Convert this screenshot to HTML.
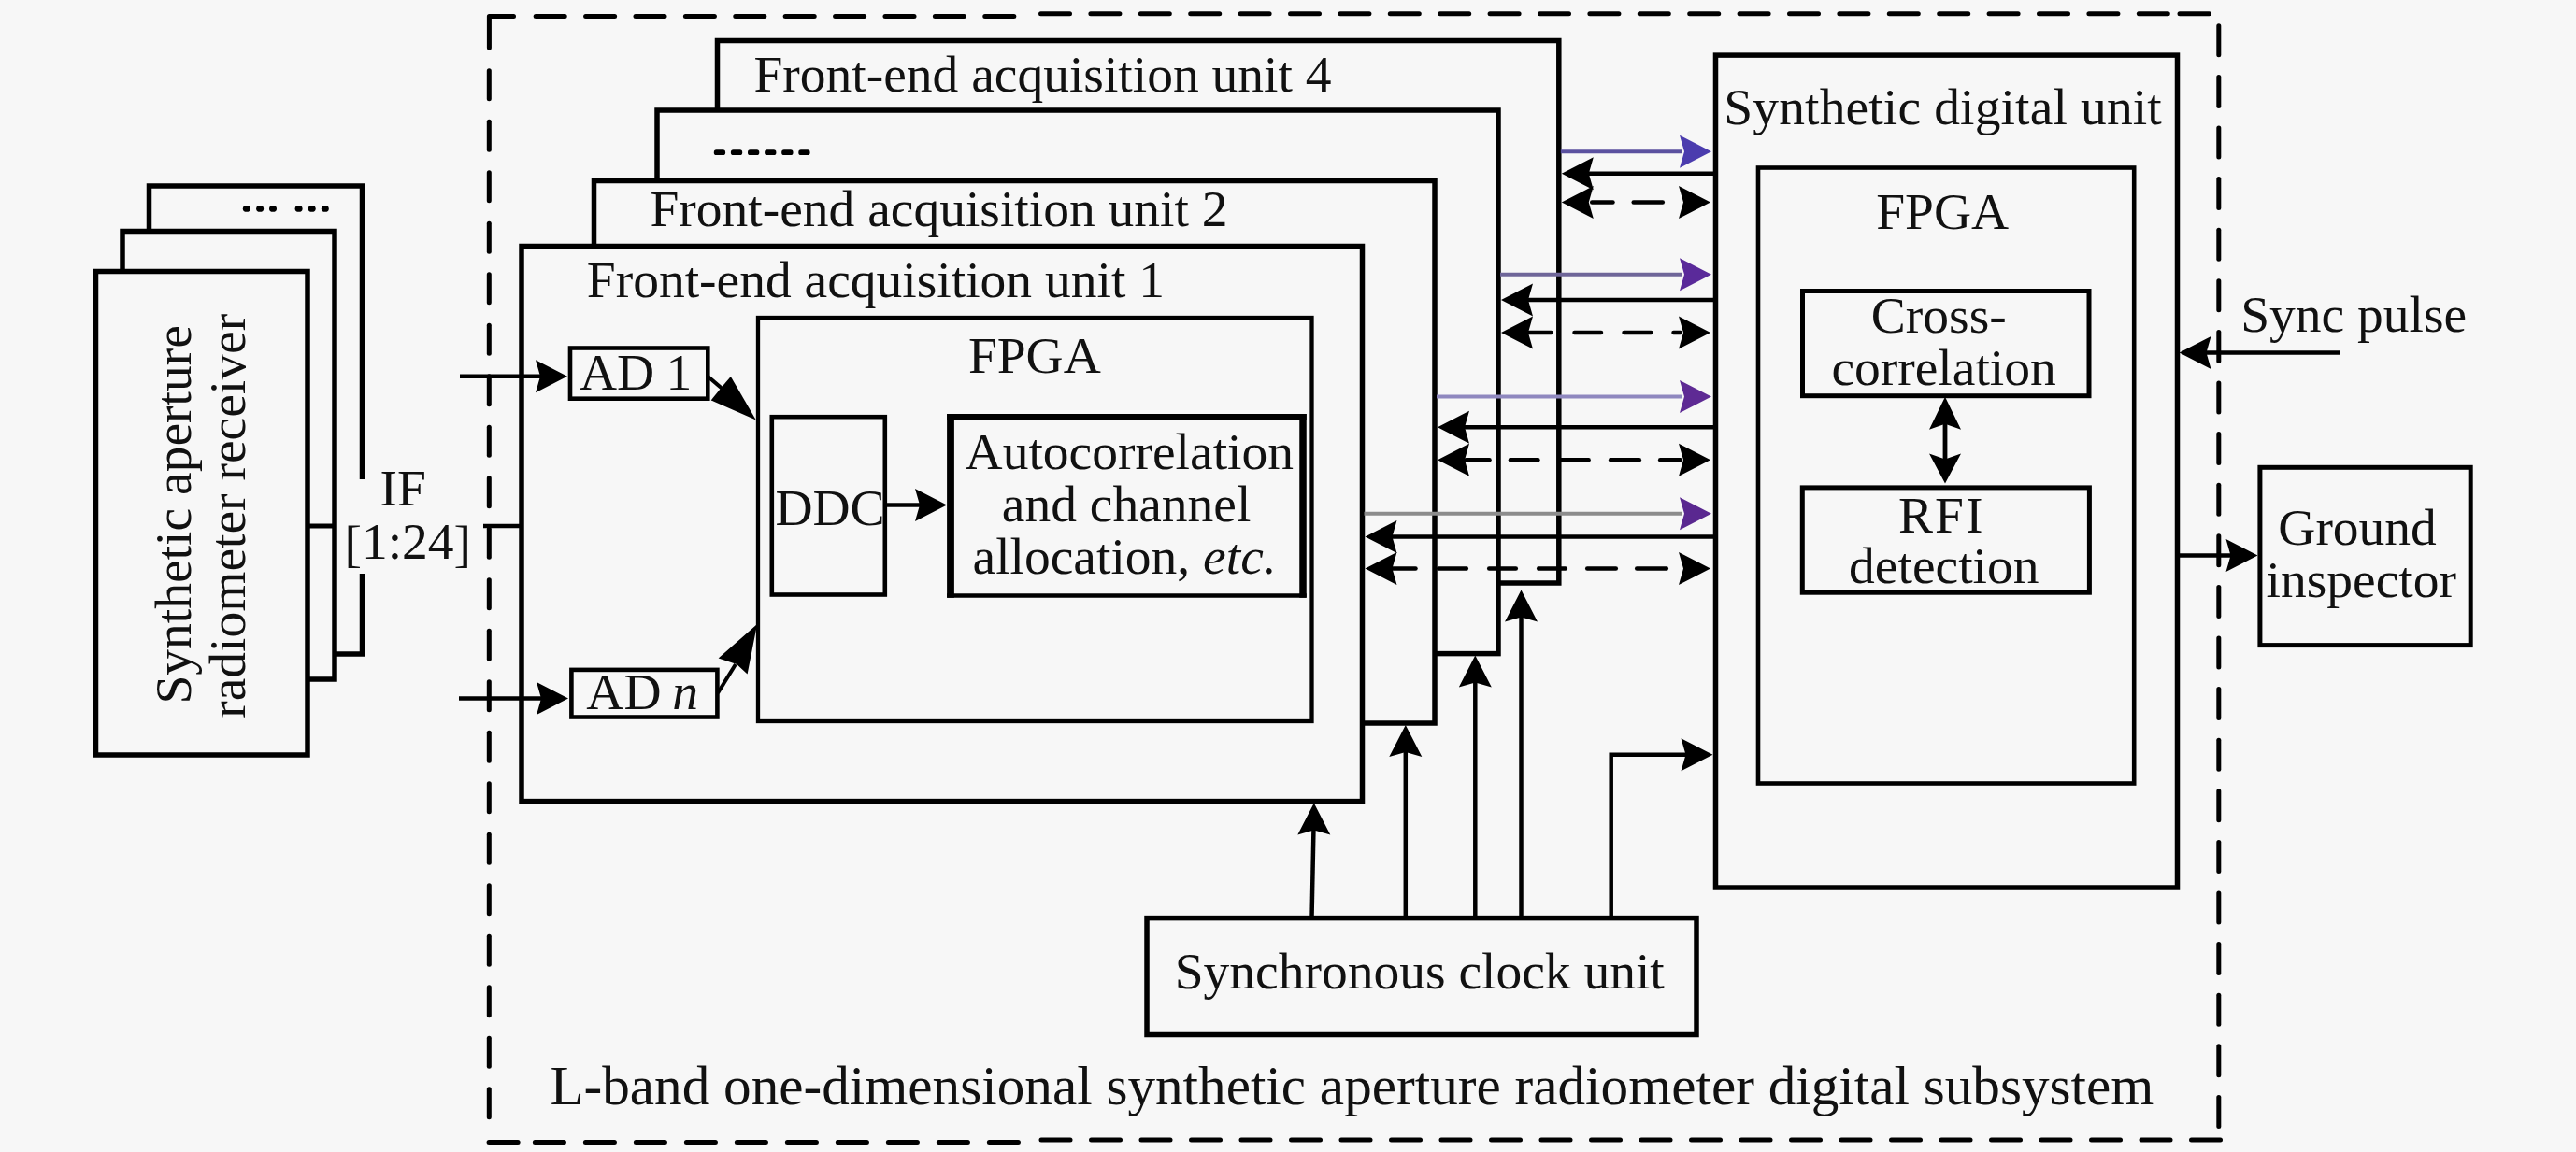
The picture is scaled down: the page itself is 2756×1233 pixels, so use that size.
<!DOCTYPE html>
<html><head><meta charset="utf-8"><style>
html,body{margin:0;padding:0;background:#f7f7f7;}
svg{display:block;}
text{font-family:"Liberation Serif",serif;fill:#111;}
</style></head><body>
<svg width="2756" height="1233" viewBox="0 0 2756 1233">
<rect width="2756" height="1233" fill="#f7f7f7"/>
<rect x="159.5" y="199" width="228.0" height="501" fill="#f7f7f7" stroke="#000" stroke-width="5.5"/>
<rect x="131" y="247.5" width="227" height="479.5" fill="#f7f7f7" stroke="#000" stroke-width="5.5"/>
<rect x="102.5" y="290.5" width="226.5" height="517.5" fill="#f7f7f7" stroke="#000" stroke-width="5.5"/>
<rect x="382" y="513" width="12" height="101" fill="#f7f7f7"/>
<ellipse cx="263.8" cy="223.4" rx="4" ry="3.4" fill="#000"/>
<ellipse cx="278.1" cy="223.4" rx="4" ry="3.4" fill="#000"/>
<ellipse cx="292" cy="223.4" rx="4" ry="3.4" fill="#000"/>
<ellipse cx="319.6" cy="223.4" rx="4" ry="3.4" fill="#000"/>
<ellipse cx="333.7" cy="223.4" rx="4" ry="3.4" fill="#000"/>
<ellipse cx="347.8" cy="223.4" rx="4" ry="3.4" fill="#000"/>
<line x1="329" y1="563" x2="358" y2="563" stroke="#000" stroke-width="5" stroke-linecap="butt"/>
<g transform="translate(203.5,550) rotate(-90)">
<text x="-203.5" y="0" font-size="55.5">Synthetic aperture</text>
</g>
<g transform="translate(261.5,552) rotate(-90)">
<text x="-216.8" y="0" font-size="55.5">radiometer receiver</text>
</g>
<text x="406.5" y="541.1" font-size="55.5">IF</text>
<text x="368.4" y="598" font-size="55.5"><tspan dy="3">[</tspan><tspan dy="-3">1:24</tspan><tspan dy="3">]</tspan></text>
<path d="M523.4,51 L523.4,17.5 L549.5,17.5" fill="none" stroke="#000" stroke-width="5" stroke-linecap="round" stroke-linejoin="round"/>
<line x1="573.2" y1="17.5" x2="604.2" y2="17.5" stroke="#000" stroke-width="5" stroke-linecap="round"/>
<line x1="626.6" y1="17.5" x2="657.6" y2="17.5" stroke="#000" stroke-width="5" stroke-linecap="round"/>
<line x1="680.0" y1="17.5" x2="711.0" y2="17.5" stroke="#000" stroke-width="5" stroke-linecap="round"/>
<line x1="733.4" y1="17.5" x2="764.4" y2="17.5" stroke="#000" stroke-width="5" stroke-linecap="round"/>
<line x1="786.8" y1="17.5" x2="817.8" y2="17.5" stroke="#000" stroke-width="5" stroke-linecap="round"/>
<line x1="840.2" y1="17.5" x2="871.2" y2="17.5" stroke="#000" stroke-width="5" stroke-linecap="round"/>
<line x1="893.6" y1="17.5" x2="924.6" y2="17.5" stroke="#000" stroke-width="5" stroke-linecap="round"/>
<line x1="947.0" y1="17.5" x2="978.0" y2="17.5" stroke="#000" stroke-width="5" stroke-linecap="round"/>
<line x1="1000.4" y1="17.5" x2="1031.4" y2="17.5" stroke="#000" stroke-width="5" stroke-linecap="round"/>
<line x1="1053.8" y1="17.5" x2="1084.8" y2="17.5" stroke="#000" stroke-width="5" stroke-linecap="round"/>
<line x1="1113.5" y1="14.8" x2="1144.5" y2="14.8" stroke="#000" stroke-width="5" stroke-linecap="round"/>
<line x1="1166.9" y1="14.8" x2="1197.9" y2="14.8" stroke="#000" stroke-width="5" stroke-linecap="round"/>
<line x1="1220.3" y1="14.8" x2="1251.3" y2="14.8" stroke="#000" stroke-width="5" stroke-linecap="round"/>
<line x1="1273.7" y1="14.8" x2="1304.7" y2="14.8" stroke="#000" stroke-width="5" stroke-linecap="round"/>
<line x1="1327.1" y1="14.8" x2="1358.1" y2="14.8" stroke="#000" stroke-width="5" stroke-linecap="round"/>
<line x1="1380.5" y1="14.8" x2="1411.5" y2="14.8" stroke="#000" stroke-width="5" stroke-linecap="round"/>
<line x1="1433.9" y1="14.8" x2="1464.9" y2="14.8" stroke="#000" stroke-width="5" stroke-linecap="round"/>
<line x1="1487.3" y1="14.8" x2="1518.3" y2="14.8" stroke="#000" stroke-width="5" stroke-linecap="round"/>
<line x1="1540.7" y1="14.8" x2="1571.7" y2="14.8" stroke="#000" stroke-width="5" stroke-linecap="round"/>
<line x1="1594.1" y1="14.8" x2="1625.1" y2="14.8" stroke="#000" stroke-width="5" stroke-linecap="round"/>
<line x1="1647.5" y1="14.8" x2="1678.5" y2="14.8" stroke="#000" stroke-width="5" stroke-linecap="round"/>
<line x1="1700.9" y1="14.8" x2="1731.9" y2="14.8" stroke="#000" stroke-width="5" stroke-linecap="round"/>
<line x1="1754.3" y1="14.8" x2="1785.3" y2="14.8" stroke="#000" stroke-width="5" stroke-linecap="round"/>
<line x1="1807.7" y1="14.8" x2="1838.7" y2="14.8" stroke="#000" stroke-width="5" stroke-linecap="round"/>
<line x1="1861.1" y1="14.8" x2="1892.1" y2="14.8" stroke="#000" stroke-width="5" stroke-linecap="round"/>
<line x1="1914.5" y1="14.8" x2="1945.5" y2="14.8" stroke="#000" stroke-width="5" stroke-linecap="round"/>
<line x1="1967.9" y1="14.8" x2="1998.9" y2="14.8" stroke="#000" stroke-width="5" stroke-linecap="round"/>
<line x1="2021.3" y1="14.8" x2="2052.3" y2="14.8" stroke="#000" stroke-width="5" stroke-linecap="round"/>
<line x1="2074.7" y1="14.8" x2="2105.7" y2="14.8" stroke="#000" stroke-width="5" stroke-linecap="round"/>
<line x1="2128.1" y1="14.8" x2="2159.1" y2="14.8" stroke="#000" stroke-width="5" stroke-linecap="round"/>
<line x1="2181.5" y1="14.8" x2="2212.5" y2="14.8" stroke="#000" stroke-width="5" stroke-linecap="round"/>
<line x1="2234.9" y1="14.8" x2="2265.9" y2="14.8" stroke="#000" stroke-width="5" stroke-linecap="round"/>
<line x1="2288.3" y1="14.8" x2="2319.3" y2="14.8" stroke="#000" stroke-width="5" stroke-linecap="round"/>
<line x1="2332.0" y1="14.8" x2="2363.5" y2="14.8" stroke="#000" stroke-width="5" stroke-linecap="round"/>
<line x1="523.3" y1="75.8" x2="523.3" y2="105.8" stroke="#000" stroke-width="5" stroke-linecap="round"/>
<line x1="523.3" y1="130.3" x2="523.3" y2="160.3" stroke="#000" stroke-width="5" stroke-linecap="round"/>
<line x1="523.3" y1="184.8" x2="523.3" y2="214.8" stroke="#000" stroke-width="5" stroke-linecap="round"/>
<line x1="523.3" y1="239.3" x2="523.3" y2="269.3" stroke="#000" stroke-width="5" stroke-linecap="round"/>
<line x1="523.3" y1="293.8" x2="523.3" y2="323.8" stroke="#000" stroke-width="5" stroke-linecap="round"/>
<line x1="523.3" y1="348.3" x2="523.3" y2="378.3" stroke="#000" stroke-width="5" stroke-linecap="round"/>
<line x1="523.3" y1="402.8" x2="523.3" y2="432.8" stroke="#000" stroke-width="5" stroke-linecap="round"/>
<line x1="523.3" y1="457.3" x2="523.3" y2="487.3" stroke="#000" stroke-width="5" stroke-linecap="round"/>
<line x1="523.3" y1="511.8" x2="523.3" y2="541.8" stroke="#000" stroke-width="5" stroke-linecap="round"/>
<line x1="523.3" y1="566.3" x2="523.3" y2="596.3" stroke="#000" stroke-width="5" stroke-linecap="round"/>
<line x1="523.3" y1="620.8" x2="523.3" y2="650.8" stroke="#000" stroke-width="5" stroke-linecap="round"/>
<line x1="523.3" y1="675.3" x2="523.3" y2="705.3" stroke="#000" stroke-width="5" stroke-linecap="round"/>
<line x1="523.3" y1="729.8" x2="523.3" y2="759.8" stroke="#000" stroke-width="5" stroke-linecap="round"/>
<line x1="523.3" y1="784.3" x2="523.3" y2="814.3" stroke="#000" stroke-width="5" stroke-linecap="round"/>
<line x1="523.3" y1="838.8" x2="523.3" y2="868.8" stroke="#000" stroke-width="5" stroke-linecap="round"/>
<line x1="523.3" y1="893.3" x2="523.3" y2="923.3" stroke="#000" stroke-width="5" stroke-linecap="round"/>
<line x1="523.3" y1="947.8" x2="523.3" y2="977.8" stroke="#000" stroke-width="5" stroke-linecap="round"/>
<line x1="523.3" y1="1002.3" x2="523.3" y2="1032.3" stroke="#000" stroke-width="5" stroke-linecap="round"/>
<line x1="523.3" y1="1056.8" x2="523.3" y2="1086.8" stroke="#000" stroke-width="5" stroke-linecap="round"/>
<line x1="523.3" y1="1111.3" x2="523.3" y2="1141.3" stroke="#000" stroke-width="5" stroke-linecap="round"/>
<line x1="523.3" y1="1165.8" x2="523.3" y2="1195.8" stroke="#000" stroke-width="5" stroke-linecap="round"/>
<line x1="523.1" y1="1222.5" x2="554.1" y2="1222.5" stroke="#000" stroke-width="5" stroke-linecap="round"/>
<line x1="572.4" y1="1222.5" x2="603.4" y2="1222.5" stroke="#000" stroke-width="5" stroke-linecap="round"/>
<line x1="626.4" y1="1222.5" x2="657.4" y2="1222.5" stroke="#000" stroke-width="5" stroke-linecap="round"/>
<line x1="680.4" y1="1222.5" x2="711.4" y2="1222.5" stroke="#000" stroke-width="5" stroke-linecap="round"/>
<line x1="734.4" y1="1222.5" x2="765.4" y2="1222.5" stroke="#000" stroke-width="5" stroke-linecap="round"/>
<line x1="788.4" y1="1222.5" x2="819.4" y2="1222.5" stroke="#000" stroke-width="5" stroke-linecap="round"/>
<line x1="842.4" y1="1222.5" x2="873.4" y2="1222.5" stroke="#000" stroke-width="5" stroke-linecap="round"/>
<line x1="896.4" y1="1222.5" x2="927.4" y2="1222.5" stroke="#000" stroke-width="5" stroke-linecap="round"/>
<line x1="950.4" y1="1222.5" x2="981.4" y2="1222.5" stroke="#000" stroke-width="5" stroke-linecap="round"/>
<line x1="1004.4" y1="1222.5" x2="1035.4" y2="1222.5" stroke="#000" stroke-width="5" stroke-linecap="round"/>
<line x1="1058.4" y1="1222.5" x2="1089.4" y2="1222.5" stroke="#000" stroke-width="5" stroke-linecap="round"/>
<line x1="1114.0" y1="1220" x2="1145.0" y2="1220" stroke="#000" stroke-width="5" stroke-linecap="round"/>
<line x1="1167.5" y1="1220" x2="1198.5" y2="1220" stroke="#000" stroke-width="5" stroke-linecap="round"/>
<line x1="1221.0" y1="1220" x2="1252.0" y2="1220" stroke="#000" stroke-width="5" stroke-linecap="round"/>
<line x1="1274.5" y1="1220" x2="1305.5" y2="1220" stroke="#000" stroke-width="5" stroke-linecap="round"/>
<line x1="1328.0" y1="1220" x2="1359.0" y2="1220" stroke="#000" stroke-width="5" stroke-linecap="round"/>
<line x1="1381.5" y1="1220" x2="1412.5" y2="1220" stroke="#000" stroke-width="5" stroke-linecap="round"/>
<line x1="1435.0" y1="1220" x2="1466.0" y2="1220" stroke="#000" stroke-width="5" stroke-linecap="round"/>
<line x1="1488.5" y1="1220" x2="1519.5" y2="1220" stroke="#000" stroke-width="5" stroke-linecap="round"/>
<line x1="1542.0" y1="1220" x2="1573.0" y2="1220" stroke="#000" stroke-width="5" stroke-linecap="round"/>
<line x1="1595.5" y1="1220" x2="1626.5" y2="1220" stroke="#000" stroke-width="5" stroke-linecap="round"/>
<line x1="1649.0" y1="1220" x2="1680.0" y2="1220" stroke="#000" stroke-width="5" stroke-linecap="round"/>
<line x1="1702.5" y1="1220" x2="1733.5" y2="1220" stroke="#000" stroke-width="5" stroke-linecap="round"/>
<line x1="1756.0" y1="1220" x2="1787.0" y2="1220" stroke="#000" stroke-width="5" stroke-linecap="round"/>
<line x1="1809.5" y1="1220" x2="1840.5" y2="1220" stroke="#000" stroke-width="5" stroke-linecap="round"/>
<line x1="1863.0" y1="1220" x2="1894.0" y2="1220" stroke="#000" stroke-width="5" stroke-linecap="round"/>
<line x1="1916.5" y1="1220" x2="1947.5" y2="1220" stroke="#000" stroke-width="5" stroke-linecap="round"/>
<line x1="1970.0" y1="1220" x2="2001.0" y2="1220" stroke="#000" stroke-width="5" stroke-linecap="round"/>
<line x1="2023.5" y1="1220" x2="2054.5" y2="1220" stroke="#000" stroke-width="5" stroke-linecap="round"/>
<line x1="2077.0" y1="1220" x2="2108.0" y2="1220" stroke="#000" stroke-width="5" stroke-linecap="round"/>
<line x1="2130.5" y1="1220" x2="2161.5" y2="1220" stroke="#000" stroke-width="5" stroke-linecap="round"/>
<line x1="2184.0" y1="1220" x2="2215.0" y2="1220" stroke="#000" stroke-width="5" stroke-linecap="round"/>
<line x1="2237.5" y1="1220" x2="2268.5" y2="1220" stroke="#000" stroke-width="5" stroke-linecap="round"/>
<line x1="2291.0" y1="1220" x2="2322.0" y2="1220" stroke="#000" stroke-width="5" stroke-linecap="round"/>
<line x1="2344.5" y1="1220" x2="2375.5" y2="1220" stroke="#000" stroke-width="5" stroke-linecap="round"/>
<line x1="2373.8" y1="27.8" x2="2373.8" y2="58.8" stroke="#000" stroke-width="5" stroke-linecap="round"/>
<line x1="2373.8" y1="82.4" x2="2373.8" y2="113.4" stroke="#000" stroke-width="5" stroke-linecap="round"/>
<line x1="2373.8" y1="137.0" x2="2373.8" y2="168.0" stroke="#000" stroke-width="5" stroke-linecap="round"/>
<line x1="2373.8" y1="191.6" x2="2373.8" y2="222.6" stroke="#000" stroke-width="5" stroke-linecap="round"/>
<line x1="2373.8" y1="246.2" x2="2373.8" y2="277.2" stroke="#000" stroke-width="5" stroke-linecap="round"/>
<line x1="2373.8" y1="300.8" x2="2373.8" y2="331.8" stroke="#000" stroke-width="5" stroke-linecap="round"/>
<line x1="2373.8" y1="355.4" x2="2373.8" y2="386.4" stroke="#000" stroke-width="5" stroke-linecap="round"/>
<line x1="2373.8" y1="410.0" x2="2373.8" y2="441.0" stroke="#000" stroke-width="5" stroke-linecap="round"/>
<line x1="2373.8" y1="464.6" x2="2373.8" y2="495.6" stroke="#000" stroke-width="5" stroke-linecap="round"/>
<line x1="2373.8" y1="519.2" x2="2373.8" y2="550.2" stroke="#000" stroke-width="5" stroke-linecap="round"/>
<line x1="2373.8" y1="573.8" x2="2373.8" y2="604.8" stroke="#000" stroke-width="5" stroke-linecap="round"/>
<line x1="2373.8" y1="628.4" x2="2373.8" y2="659.4" stroke="#000" stroke-width="5" stroke-linecap="round"/>
<line x1="2373.8" y1="683.0" x2="2373.8" y2="714.0" stroke="#000" stroke-width="5" stroke-linecap="round"/>
<line x1="2373.8" y1="737.6" x2="2373.8" y2="768.6" stroke="#000" stroke-width="5" stroke-linecap="round"/>
<line x1="2373.8" y1="792.2" x2="2373.8" y2="823.2" stroke="#000" stroke-width="5" stroke-linecap="round"/>
<line x1="2373.8" y1="846.8" x2="2373.8" y2="877.8" stroke="#000" stroke-width="5" stroke-linecap="round"/>
<line x1="2373.8" y1="901.4" x2="2373.8" y2="932.4" stroke="#000" stroke-width="5" stroke-linecap="round"/>
<line x1="2373.8" y1="956.0" x2="2373.8" y2="987.0" stroke="#000" stroke-width="5" stroke-linecap="round"/>
<line x1="2373.8" y1="1010.6" x2="2373.8" y2="1041.6" stroke="#000" stroke-width="5" stroke-linecap="round"/>
<line x1="2373.8" y1="1065.2" x2="2373.8" y2="1096.2" stroke="#000" stroke-width="5" stroke-linecap="round"/>
<line x1="2373.8" y1="1119.8" x2="2373.8" y2="1150.8" stroke="#000" stroke-width="5" stroke-linecap="round"/>
<line x1="2373.8" y1="1174.4" x2="2373.8" y2="1205.4" stroke="#000" stroke-width="5" stroke-linecap="round"/>
<rect x="767.5" y="43.5" width="900.3" height="580.5" fill="#f7f7f7" stroke="#000" stroke-width="5.5"/>
<rect x="703" y="118" width="900" height="581.6" fill="#f7f7f7" stroke="#000" stroke-width="5.5"/>
<rect x="635.5" y="193.5" width="899.5" height="580.5" fill="#f7f7f7" stroke="#000" stroke-width="5.5"/>
<rect x="558" y="263.5" width="899.5" height="594.1" fill="#f7f7f7" stroke="#000" stroke-width="5.5"/>
<text x="806.4" y="97.7" font-size="55.5">Front-end acquisition unit 4</text>
<rect x="763.8" y="160.3" width="12.3" height="5.8" rx="2.6" fill="#000"/>
<rect x="781.9" y="160.3" width="12.3" height="5.8" rx="2.6" fill="#000"/>
<rect x="800.0" y="160.3" width="12.3" height="5.8" rx="2.6" fill="#000"/>
<rect x="818.1" y="160.3" width="12.3" height="5.8" rx="2.6" fill="#000"/>
<rect x="836.2" y="160.3" width="12.3" height="5.8" rx="2.6" fill="#000"/>
<rect x="854.3" y="160.3" width="12.3" height="5.8" rx="2.6" fill="#000"/>
<text x="695.4" y="242.1" font-size="55.5">Front-end acquisition unit 2</text>
<text x="627.8" y="317.8" font-size="55.5">Front-end acquisition unit 1</text>
<rect x="811" y="340" width="592.5" height="432" fill="#f7f7f7" stroke="#000" stroke-width="4.3"/>
<text x="1035.9" y="399" font-size="55.5">FPGA</text>
<rect x="825.8" y="446.2" width="121.0" height="190.3" fill="#f7f7f7" stroke="#000" stroke-width="4.6"/>
<text x="829.4" y="562" font-size="55.5">DDC</text>
<rect x="1017" y="446" width="377" height="191.5" fill="#f7f7f7"/>
<line x1="1017" y1="443" x2="1017" y2="639.7" stroke="#000" stroke-width="7.8" stroke-linecap="butt"/>
<line x1="1394" y1="443" x2="1394" y2="639.7" stroke="#000" stroke-width="7.5" stroke-linecap="butt"/>
<line x1="1013.1" y1="446" x2="1397.7" y2="446" stroke="#000" stroke-width="6" stroke-linecap="butt"/>
<line x1="1013.1" y1="637.5" x2="1397.7" y2="637.5" stroke="#000" stroke-width="4.5" stroke-linecap="butt"/>
<text x="1032.6" y="502.4" font-size="55.5">Autocorrelation</text>
<text x="1071.8" y="557.5" font-size="55.5">and channel</text>
<text x="1040.5" y="613.6" font-size="55.5">allocation, <tspan font-style="italic">etc.</tspan></text>
<line x1="949" y1="540.6" x2="985" y2="540.6" stroke="#000" stroke-width="4.5" stroke-linecap="butt"/>
<polygon points="1013.0,540.6 979.0,558.1 984.0,540.6 979.0,523.1" fill="#000"/>
<rect x="610" y="372.5" width="147.29999999999995" height="54.19999999999999" fill="#f7f7f7" stroke="#000" stroke-width="4.6"/>
<text x="620.0" y="416.6" font-size="55.5">AD <tspan dx="-1.5">1</tspan></text>
<rect x="611.4" y="716.9" width="156.0" height="50.60000000000002" fill="#f7f7f7" stroke="#000" stroke-width="4.6"/>
<text x="627.3" y="758.8" font-size="55.5">AD <tspan font-style="italic" dx="-2">n</tspan></text>
<line x1="492" y1="402.8" x2="580" y2="402.8" stroke="#000" stroke-width="4.5" stroke-linecap="butt"/>
<polygon points="607.0,402.8 573.0,420.3 578.0,402.8 573.0,385.3" fill="#000"/>
<line x1="491" y1="747.6" x2="580" y2="747.6" stroke="#000" stroke-width="4.5" stroke-linecap="butt"/>
<polygon points="608.0,747.6 574.0,765.1 579.0,747.6 574.0,730.1" fill="#000"/>
<line x1="517" y1="563" x2="557" y2="563" stroke="#000" stroke-width="4.5" stroke-linecap="butt"/>
<line x1="757.5" y1="403" x2="775" y2="418" stroke="#000" stroke-width="4" stroke-linecap="butt"/>
<polygon points="808.8,449.5 781.8,403.0 772.8,413.6 760.7,428.4" fill="#000"/>
<line x1="768" y1="741.6" x2="787" y2="711" stroke="#000" stroke-width="4" stroke-linecap="butt"/>
<polygon points="810.1,668.1 768.6,704.4 788.2,711.1 799.6,721.6" fill="#000"/>
<line x1="1669.8" y1="162.3" x2="1800" y2="162.3" stroke="#5b519f" stroke-width="4" stroke-linecap="butt"/>
<polygon points="1831.0,162.3 1797.0,179.8 1802.0,162.3 1797.0,144.8" fill="#4b3cae"/>
<line x1="1697.8" y1="185.8" x2="1835.5" y2="185.8" stroke="#000" stroke-width="4.5" stroke-linecap="butt"/>
<polygon points="1670.8,185.8 1704.8,168.3 1699.8,185.8 1704.8,203.3" fill="#000"/>
<line x1="1703.2" y1="216.4" x2="1725.5" y2="216.4" stroke="#000" stroke-width="4.5" stroke-linecap="round"/>
<line x1="1747.7" y1="216.4" x2="1778.8" y2="216.4" stroke="#000" stroke-width="4.5" stroke-linecap="round"/>
<polygon points="1670.8,216.4 1704.8,198.9 1699.8,216.4 1704.8,233.9" fill="#000"/>
<polygon points="1830.0,216.4 1796.0,233.9 1801.0,216.4 1796.0,198.9" fill="#000"/>
<line x1="1605" y1="293.7" x2="1800" y2="293.7" stroke="#6f6699" stroke-width="4" stroke-linecap="butt"/>
<polygon points="1831.0,293.7 1797.0,311.2 1802.0,293.7 1797.0,276.2" fill="#5a2a9a"/>
<line x1="1633" y1="321" x2="1835.5" y2="321" stroke="#000" stroke-width="4.5" stroke-linecap="butt"/>
<polygon points="1606.0,321.0 1640.0,303.5 1635.0,321.0 1640.0,338.5" fill="#000"/>
<line x1="1635.6000000000001" y1="356" x2="1659.5" y2="356" stroke="#000" stroke-width="4.5" stroke-linecap="round"/>
<line x1="1684.5" y1="356" x2="1713.0" y2="356" stroke="#000" stroke-width="4.5" stroke-linecap="round"/>
<line x1="1737.5" y1="356" x2="1766.3999999999999" y2="356" stroke="#000" stroke-width="4.5" stroke-linecap="round"/>
<line x1="1790.5" y1="356" x2="1797.8" y2="356" stroke="#000" stroke-width="4.5" stroke-linecap="round"/>
<polygon points="1606.0,356.0 1640.0,338.5 1635.0,356.0 1640.0,373.5" fill="#000"/>
<polygon points="1830.0,356.0 1796.0,373.5 1801.0,356.0 1796.0,338.5" fill="#000"/>
<line x1="1537" y1="424.6" x2="1800" y2="424.6" stroke="#8f88bf" stroke-width="4" stroke-linecap="butt"/>
<polygon points="1831.0,424.6 1797.0,442.1 1802.0,424.6 1797.0,407.1" fill="#5e2a94"/>
<line x1="1565" y1="457.3" x2="1835.5" y2="457.3" stroke="#000" stroke-width="4.5" stroke-linecap="butt"/>
<polygon points="1538.0,457.3 1572.0,439.8 1567.0,457.3 1572.0,474.8" fill="#000"/>
<line x1="1568.6000000000001" y1="492.3" x2="1593.5" y2="492.3" stroke="#000" stroke-width="4.5" stroke-linecap="round"/>
<line x1="1616.0" y1="492.3" x2="1645.3999999999999" y2="492.3" stroke="#000" stroke-width="4.5" stroke-linecap="round"/>
<line x1="1669.0" y1="492.3" x2="1699.6" y2="492.3" stroke="#000" stroke-width="4.5" stroke-linecap="round"/>
<line x1="1723.2" y1="492.3" x2="1753.8" y2="492.3" stroke="#000" stroke-width="4.5" stroke-linecap="round"/>
<line x1="1776.2" y1="492.3" x2="1797.8" y2="492.3" stroke="#000" stroke-width="4.5" stroke-linecap="round"/>
<polygon points="1538.0,492.3 1572.0,474.8 1567.0,492.3 1572.0,509.8" fill="#000"/>
<polygon points="1830.0,492.3 1796.0,509.8 1801.0,492.3 1796.0,474.8" fill="#000"/>
<line x1="1459.5" y1="549.8" x2="1800" y2="549.8" stroke="#8c8c8c" stroke-width="4" stroke-linecap="butt"/>
<polygon points="1831.0,549.8 1797.0,567.3 1802.0,549.8 1797.0,532.3" fill="#5a2890"/>
<line x1="1487.5" y1="574.6" x2="1835.5" y2="574.6" stroke="#000" stroke-width="4.5" stroke-linecap="butt"/>
<polygon points="1460.5,574.6 1494.5,557.1 1489.5,574.6 1494.5,592.1" fill="#000"/>
<line x1="1490.2" y1="608.5" x2="1514.5" y2="608.5" stroke="#000" stroke-width="4.5" stroke-linecap="round"/>
<line x1="1539.2" y1="608.5" x2="1568.8" y2="608.5" stroke="#000" stroke-width="4.5" stroke-linecap="round"/>
<line x1="1593.2" y1="608.5" x2="1621.8" y2="608.5" stroke="#000" stroke-width="4.5" stroke-linecap="round"/>
<line x1="1646.2" y1="608.5" x2="1674.8" y2="608.5" stroke="#000" stroke-width="4.5" stroke-linecap="round"/>
<line x1="1698.2" y1="608.5" x2="1728.8" y2="608.5" stroke="#000" stroke-width="4.5" stroke-linecap="round"/>
<line x1="1751.2" y1="608.5" x2="1782.8" y2="608.5" stroke="#000" stroke-width="4.5" stroke-linecap="round"/>
<polygon points="1460.5,608.5 1494.5,591.0 1489.5,608.5 1494.5,626.0" fill="#000"/>
<polygon points="1830.0,608.5 1796.0,626.0 1801.0,608.5 1796.0,591.0" fill="#000"/>
<rect x="1835.5" y="59.1" width="494.0" height="890.9" fill="none" stroke="#000" stroke-width="5.5"/>
<text x="1844.3" y="132.5" font-size="55.5" letter-spacing="0.14">Synthetic digital unit</text>
<rect x="1881" y="179.5" width="402.1999999999998" height="659.0" fill="#f7f7f7" stroke="#000" stroke-width="4.6"/>
<text x="2007.2" y="244.5" font-size="55.5">FPGA</text>
<rect x="1928.5" y="311.5" width="306.5" height="112.19999999999999" fill="#f7f7f7" stroke="#000" stroke-width="5"/>
<text x="2001.8" y="356.4" font-size="55.5">Cross-</text>
<text x="1959.4" y="411.9" font-size="55.5">correlation</text>
<rect x="1928.3" y="521.9" width="307.10000000000014" height="112.30000000000007" fill="#f7f7f7" stroke="#000" stroke-width="5"/>
<text x="2031.0" y="569.9" font-size="55.5" letter-spacing="2">RFI</text>
<text x="1978.1" y="624" font-size="55.5">detection</text>
<line x1="2081" y1="450" x2="2081" y2="495" stroke="#000" stroke-width="4.8" stroke-linecap="butt"/>
<polygon points="2081.0,424.8 2098.0,459.8 2081.0,453.8 2064.0,459.8" fill="#000"/>
<polygon points="2081.0,517.5 2064.0,485.5 2081.0,491.5 2098.0,485.5" fill="#000"/>
<text x="2397.2" y="354.7" font-size="55.5">Sync pulse</text>
<line x1="2360" y1="377.5" x2="2504" y2="377.5" stroke="#000" stroke-width="4.5" stroke-linecap="butt"/>
<polygon points="2331.5,377.5 2365.5,360.0 2360.5,377.5 2365.5,395.0" fill="#000"/>
<rect x="2417.9" y="500.3" width="225.29999999999973" height="190.3" fill="#f7f7f7" stroke="#000" stroke-width="5"/>
<text x="2437.3" y="582.5" font-size="55.5">Ground</text>
<text x="2424.5" y="639" font-size="55.5">inspector</text>
<line x1="2331" y1="594.4" x2="2388" y2="594.4" stroke="#000" stroke-width="4.5" stroke-linecap="butt"/>
<polygon points="2415.5,594.4 2381.5,611.9 2386.5,594.4 2381.5,576.9" fill="#000"/>
<rect x="1227" y="982.6" width="588" height="124.89999999999998" fill="#f7f7f7" stroke="#000" stroke-width="5.5"/>
<text x="1256.7" y="1058.3" font-size="55.5">Synchronous clock unit</text>
<line x1="1403.5" y1="982" x2="1405.5" y2="885" stroke="#000" stroke-width="4.5" stroke-linecap="butt"/>
<polygon points="1405.8,859.6 1423.3,893.6 1405.8,888.6 1388.3,893.6" fill="#000"/>
<line x1="1503.8" y1="982" x2="1503.8" y2="800" stroke="#000" stroke-width="4.5" stroke-linecap="butt"/>
<polygon points="1503.8,776.1 1521.3,810.1 1503.8,805.1 1486.3,810.1" fill="#000"/>
<line x1="1578.3" y1="982" x2="1578.3" y2="725" stroke="#000" stroke-width="4.5" stroke-linecap="butt"/>
<polygon points="1578.3,701.6 1595.8,735.6 1578.3,730.6 1560.8,735.6" fill="#000"/>
<line x1="1627.5" y1="982" x2="1627.5" y2="655" stroke="#000" stroke-width="4.5" stroke-linecap="butt"/>
<polygon points="1627.5,631.6 1645.0,665.6 1627.5,660.6 1610.0,665.6" fill="#000"/>
<polyline points="1723.7,982 1723.7,807.7 1805,807.7" fill="none" stroke="#000" stroke-width="4.5"/>
<polygon points="1832.5,807.7 1798.5,825.2 1803.5,807.7 1798.5,790.2" fill="#000"/>
<text x="588.4" y="1181.6" font-size="59.2">L-band one-dimensional synthetic aperture radiometer digital subsystem</text>
</svg>
</body></html>
